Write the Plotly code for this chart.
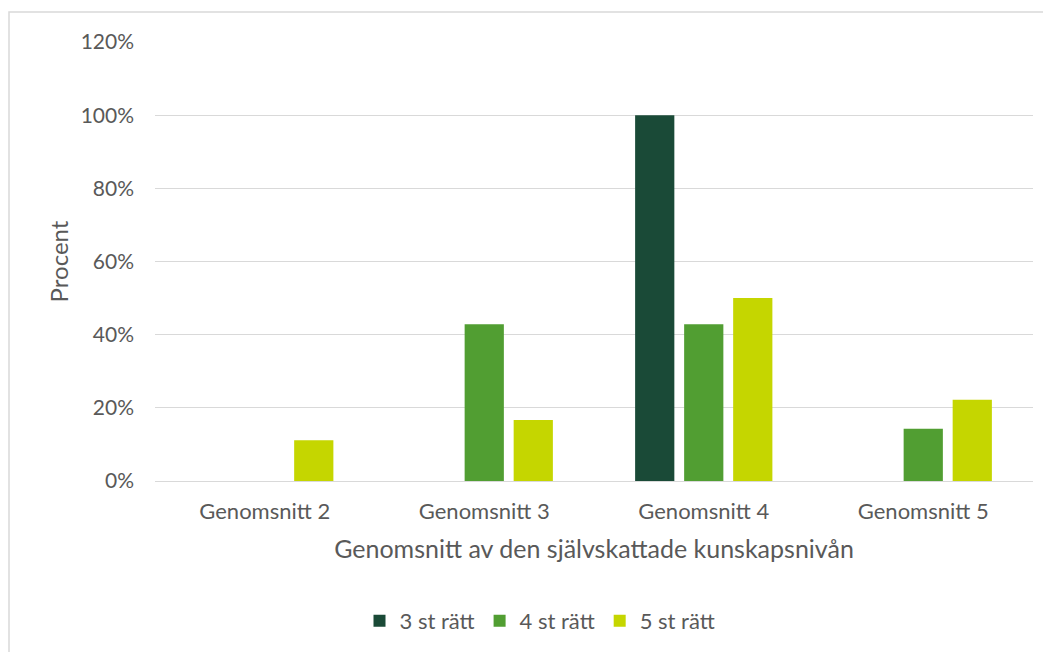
import plotly.graph_objects as go

categories = ["Genomsnitt 2", "Genomsnitt 3", "Genomsnitt 4", "Genomsnitt 5"]
series_names = ["3 st rätt", "4 st rätt", "5 st rätt"]
v3 = [0.0, 0.0, 1.0, 0.0]
v4 = [0.0, 0.4286, 0.4286, 0.1429]
v5 = [0.1111, 0.1667, 0.5, 0.2222]
colors = ["#1A4A37", "#519E32", "#C5D600"]
y_ticks = [0, 0.2, 0.4, 0.6, 0.8, 1.0, 1.2]

FONT = "Lato, Open Sans, sans-serif"
GREY = "#595959"

fig = go.Figure()
for name, vals, col in zip(series_names, [v3, v4, v5], colors):
    fig.add_trace(go.Bar(x=categories, y=vals, name=name,
                         marker=dict(color=col, line=dict(width=0))))

W, H = 1051, 652
L, R, T, B = 147, 26, 34, 179
pw = W - L - R
ph = H - T - B
plot_bottom = H - B

fig.update_layout(
    width=W, height=H,
    margin=dict(l=L, r=R, t=T, b=B),
    paper_bgcolor="white", plot_bgcolor="white",
    barmode="group", bargap=0.33, bargroupgap=0.2,
    font=dict(family=FONT, color=GREY, size=21),
    showlegend=True,
    legend=dict(orientation="h", x=(532 - L) / pw, xanchor="center",
                y=(plot_bottom - 613) / ph, yanchor="middle",
                font=dict(size=22, color=GREY),
                itemwidth=30, tracegroupgap=0),
    xaxis=dict(title=dict(text="Genomsnitt av den självskattade kunskapsnivån",
                          font=dict(size=25, color=GREY), standoff=17),
               showgrid=False, showline=False, ticks="", ticklabelstandoff=15,
               tickfont=dict(size=22, color=GREY)),
    yaxis=dict(title=dict(text="Procent", font=dict(size=24, color=GREY), standoff=5),
               range=[0, 1.2], tickvals=y_ticks, tickformat=".0%",
               showgrid=True, gridcolor="#D9D9D9", gridwidth=1.3,
               zeroline=True, zerolinecolor="#D9D9D9", zerolinewidth=1.3,
               showline=False, ticks="", ticklabelstandoff=20,
               tickfont=dict(size=21, color=GREY)),
)

# outer chart border (light grey frame)
x0 = (1.0 - L) / pw
y1 = (plot_bottom - 4) / ph
fig.add_shape(type="rect", xref="paper", yref="paper",
              x0=x0, x1=1.2, y0=-0.6, y1=y1,
              line=dict(color="#D9D9D9", width=1.5), fillcolor="rgba(0,0,0,0)", layer="below")

fig.write_html("out.html")
